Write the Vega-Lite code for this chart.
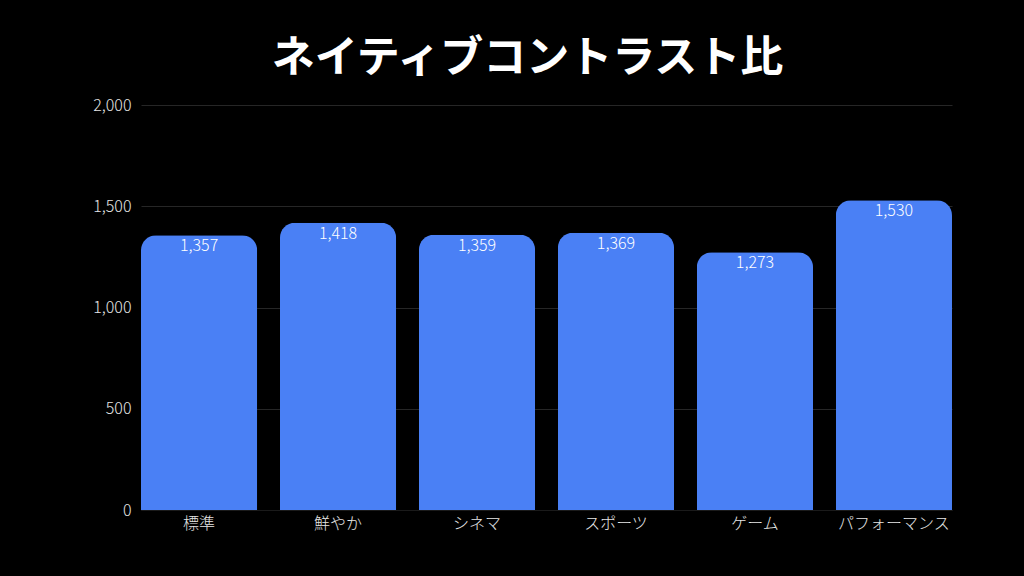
{
  "$schema": "https://vega.github.io/schema/vega-lite/v6.json",
  "width": 811,
  "height": 405,
  "autosize": {"type": "none"},
  "padding": {"left": 141, "top": 105, "right": 72, "bottom": 66},
  "background": "#000000",
  "title": {
    "text": "ネイティブコントラスト比",
    "font": "Noto Sans CJK JP",
    "fontSize": 43,
    "fontWeight": "bold",
    "color": "#ffffff",
    "anchor": "middle",
    "dx": -19,
    "offset": 16
  },
  "config": {
    "view": {"stroke": null},
    "font": "Noto Sans CJK JP"
  },
  "data": {
    "values": [
      {"mode": "標準", "value": 1357},
      {"mode": "鮮やか", "value": 1418},
      {"mode": "シネマ", "value": 1359},
      {"mode": "スポーツ", "value": 1369},
      {"mode": "ゲーム", "value": 1273},
      {"mode": "パフォーマンス", "value": 1530}
    ]
  },
  "encoding": {
    "x": {
      "field": "mode",
      "type": "nominal",
      "sort": null,
      "scale": {"paddingInner": 0.164, "paddingOuter": 0},
      "axis": {
        "title": null,
        "labelAngle": 0,
        "labelColor": "#e6e6e6",
        "labelFont": "Noto Sans CJK JP",
        "labelFontSize": 16,
        "labelFontWeight": 300,
        "labelPadding": 5,
        "ticks": false,
        "domain": true,
        "domainColor": "#1a1a1a",
        "grid": false
      }
    },
    "y": {
      "field": "value",
      "type": "quantitative",
      "scale": {"domain": [0, 2000]},
      "axis": {
        "title": null,
        "values": [0, 500, 1000, 1500, 2000],
        "format": ",d",
        "labelColor": "#e6e6e6",
        "labelFont": "Noto Sans CJK JP",
        "labelFontSize": 16,
        "labelFontWeight": 300,
        "labelPadding": 10,
        "ticks": false,
        "domain": false,
        "grid": true,
        "gridColor": "#262626",
        "gridWidth": 1
      }
    }
  },
  "layer": [
    {
      "mark": {
        "type": "bar",
        "color": "#4a80f5",
        "cornerRadiusTopLeft": 15,
        "cornerRadiusTopRight": 15
      }
    },
    {
      "mark": {
        "type": "text",
        "baseline": "top",
        "dy": 3,
        "color": "#ffffff",
        "fontSize": 16,
        "fontWeight": 300,
        "font": "Noto Sans CJK JP"
      },
      "encoding": {
        "text": {"field": "value", "type": "quantitative", "format": ",d"}
      }
    }
  ]
}
